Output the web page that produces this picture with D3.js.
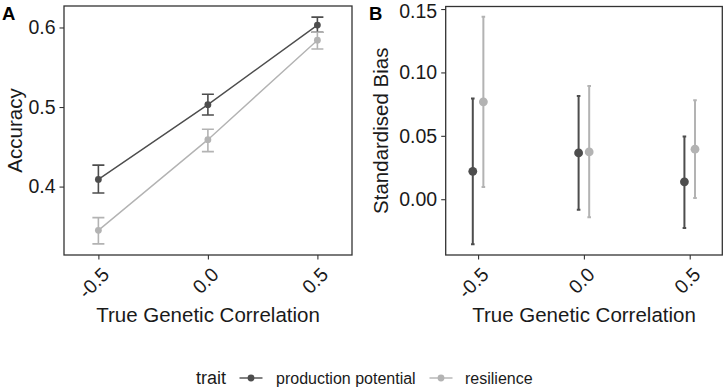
<!DOCTYPE html>
<html lang="en">
<head>
  <meta charset="UTF-8">
  <title>Accuracy and Standardised Bias</title>
  <script src="https://d3js.org/d3.v7.min.js"></script>
  <style>
    body { margin: 0; background: #fff; font-family: Arial, "Liberation Sans", sans-serif; }
    .tick text { fill: #1a1a1a; }
  </style>
</head>
<body>
  <svg width="726" height="388"></svg>

  <script>
    // values
    const correlations = [-0.5, 0.0, 0.5];
    const traits = ["production potential", "resilience"];
    const colors = ["#4d4d4d", "#b3b3b3"];

    const accProd   = [0.409, 0.503, 0.603];
    const accProdLo = [0.392, 0.490, 0.594];
    const accProdHi = [0.427, 0.516, 0.613];
    const accRes    = [0.345, 0.459, 0.584];
    const accResLo  = [0.328, 0.444, 0.573];
    const accResHi  = [0.361, 0.472, 0.594];

    const biasProd   = [0.022, 0.0365, 0.0137];
    const biasProdLo = [-0.0355, -0.0084, -0.0227];
    const biasProdHi = [0.0794, 0.0815, 0.0494];
    const biasRes    = [0.0768, 0.0373, 0.0395];
    const biasResLo  = [0.0097, -0.0142, 0.001];
    const biasResHi  = [0.1439, 0.0892, 0.0781];

    const yTicksA = [0.4, 0.5, 0.6];
    const yTicksB = [0.00, 0.05, 0.10, 0.15];

    const svg = d3.select("svg");

    function makeSeries(vals, lo, hi) {
      return correlations.map((c, i) => ({x: c, y: vals[i], lo: lo[i], hi: hi[i]}));
    }
    const accData = [makeSeries(accProd, accProdLo, accProdHi), makeSeries(accRes, accResLo, accResHi)];
    const biasData = [makeSeries(biasProd, biasProdLo, biasProdHi), makeSeries(biasRes, biasResLo, biasResHi)];

    const fmt = f => d => d3.format(f)(d).replace("\u2212", "-");

    function panel(opts) {
      const {left, right, top, bottom, xDomain, yDomain, yTicks, yFmt, label, ylab, labX, ylabX} = opts;
      const x = d3.scaleLinear().domain(xDomain).range([left, right]);
      const y = d3.scaleLinear().domain(yDomain).range([bottom, top]);
      const g = svg.append("g");

      // axes
      const ax = g.append("g").attr("transform", `translate(0,${bottom})`)
        .call(d3.axisBottom(x).tickValues(correlations).tickSize(4.5).tickFormat(fmt(".1f")));
      ax.select(".domain").remove();
      ax.selectAll(".tick line").attr("stroke", "#333").attr("stroke-width", 1.1);
      ax.selectAll(".tick text")
        .attr("font-size", 19.5)
        .attr("text-anchor", "end")
        .attr("y", 0).attr("dy", "0.72em")
        .attr("transform", "translate(1.5,11) rotate(-45)");

      const ay = g.append("g").attr("transform", `translate(${left},0)`)
        .call(d3.axisLeft(y).tickValues(yTicks).tickSize(4.5).tickPadding(4).tickFormat(fmt(yFmt)));
      ay.select(".domain").remove();
      ay.selectAll(".tick line").attr("stroke", "#333").attr("stroke-width", 1.1);
      ay.selectAll(".tick text").attr("font-size", 19.5)
        // keep a label that sits at the very top edge inside the page
        .attr("y", function(d) { return y(d) < 12 ? 2 : 0; });

      // panel border
      g.append("rect")
        .attr("x", left).attr("y", top)
        .attr("width", right - left).attr("height", bottom - top)
        .attr("fill", "none").attr("stroke", "#333").attr("stroke-width", 1.3);

      // titles
      g.append("text")
        .attr("x", (left + right) / 2).attr("y", 322)
        .attr("text-anchor", "middle").attr("font-size", 20.5).attr("fill", "#1a1a1a")
        .text("True Genetic Correlation");
      g.append("text")
        .attr("transform", `translate(${ylabX},${(top + bottom) / 2}) rotate(-90)`)
        .attr("text-anchor", "middle").attr("font-size", 20.5).attr("fill", "#1a1a1a")
        .text(ylab);
      g.append("text")
        .attr("x", labX).attr("y", 20)
        .attr("font-size", 18.5).attr("font-weight", "bold")
        .text(label);

      return {g, x, y};
    }

    // Panel A
    const A = panel({left: 64, right: 352, top: 6, bottom: 255,
      xDomain: [-0.657, 0.658], yDomain: [0.314, 0.627], yTicks: yTicksA, yFmt: ".1f",
      label: "A", ylab: "Accuracy", labX: 2, ylabX: 21.5});

    const line = d3.line().x(d => A.x(d.x)).y(d => A.y(d.y));
    accData.forEach((s, k) => {
      const c = colors[k];
      A.g.append("path").attr("d", line(s)).attr("fill", "none")
        .attr("stroke", c).attr("stroke-width", 1.4);
      s.forEach(d => {
        const cx = A.x(d.x);
        A.g.append("path")
          .attr("d", `M${cx - 6},${A.y(d.hi)}H${cx + 6}M${cx},${A.y(d.hi)}V${A.y(d.lo)}M${cx - 6},${A.y(d.lo)}H${cx + 6}`)
          .attr("fill", "none").attr("stroke", c).attr("stroke-width", 1.6);
        A.g.append("circle").attr("cx", cx).attr("cy", A.y(d.y)).attr("r", 3.4).attr("fill", c);
      });
    });

    // Panel B
    const B = panel({left: 445.7, right: 722.3, top: 6.5, bottom: 255,
      xDomain: [-0.653, 0.654], yDomain: [-0.044, 0.152], yTicks: yTicksB, yFmt: ".2f",
      label: "B", ylab: "Standardised Bias", labX: 369, ylabX: 387.5});

    const dodge = [-0.025, 0.025];
    biasData.forEach((s, k) => {
      const c = colors[k];
      s.forEach(d => {
        const cx = B.x(d.x + dodge[k]);
        B.g.append("path")
          .attr("d", `M${cx - 1.8},${B.y(d.hi)}H${cx + 1.8}M${cx},${B.y(d.hi)}V${B.y(d.lo)}M${cx - 1.8},${B.y(d.lo)}H${cx + 1.8}`)
          .attr("fill", "none").attr("stroke", c).attr("stroke-width", 2);
        B.g.append("circle").attr("cx", cx).attr("cy", B.y(d.y)).attr("r", 4.4).attr("fill", c);
      });
    });

    // Legend
    const legend = svg.append("g");
    legend.append("text").attr("x", 196).attr("y", 384)
      .attr("font-size", 18).attr("fill", "#1a1a1a").text("trait");
    const keyX = [239.5, 429.5];
    const labelX = [276, 465];
    traits.forEach((t, k) => {
      legend.append("line")
        .attr("x1", keyX[k]).attr("x2", keyX[k] + 23)
        .attr("y1", 378).attr("y2", 378)
        .attr("stroke", colors[k]).attr("stroke-width", 1.4);
      legend.append("circle").attr("cx", keyX[k] + 11.5).attr("cy", 378).attr("r", 3.4).attr("fill", colors[k]);
      legend.append("text").attr("x", labelX[k]).attr("y", 384)
        .attr("font-size", 16).attr("fill", "#1a1a1a").text(t);
    });
  </script>
</body>
</html>
